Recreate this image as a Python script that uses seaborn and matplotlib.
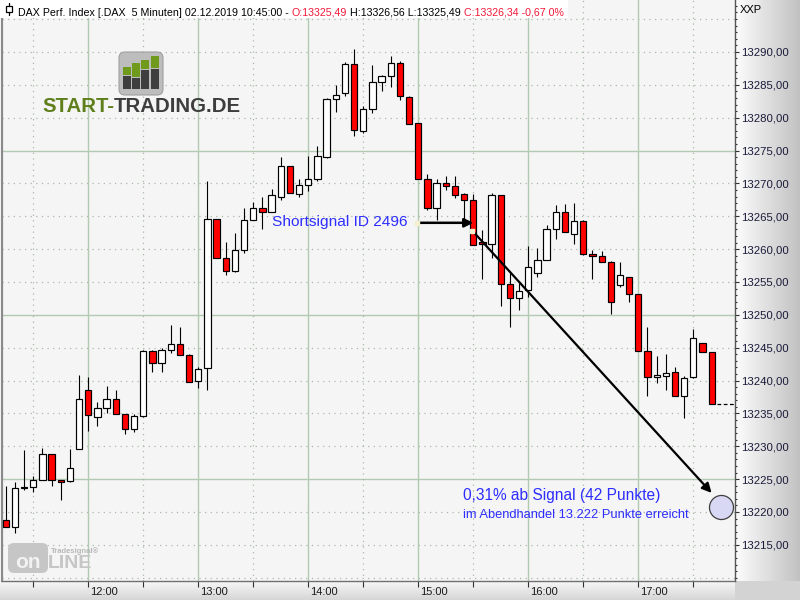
# Nachbau: DAX 5-Minuten-Chart mit Shortsignal (Kerzen mit seaborn-Balken)
import matplotlib.pyplot as plt
import numpy as np
import pandas as pd
import seaborn as sns
from matplotlib import font_manager
from matplotlib.patches import FancyBboxPatch, Rectangle
from matplotlib.text import Annotation
from matplotlib.ticker import FixedLocator, FuncFormatter, MultipleLocator
from matplotlib.transforms import ScaledTranslation

# --- Daten ---
start_time = "11:15"
bar_minutes = 5

open_ = [13218.8, 13217.7, 13223.6, 13223.8, 13224.9, 13228.8, 13224.8, 13224.7,
         13229.6, 13238.6, 13234.5, 13235.8, 13237.2, 13234.9, 13232.6, 13234.6,
         13244.5, 13242.7, 13244.7, 13245.5, 13243.9, 13239.9, 13241.9, 13264.6,
         13258.6, 13256.6, 13259.8, 13264.5, 13266.2, 13265.7, 13268.0, 13272.6,
         13268.4, 13269.7, 13270.7, 13274.0, 13282.9, 13283.7, 13288.2, 13277.9,
         13281.3, 13285.4, 13286.4, 13288.3, 13283.2, 13279.2, 13270.7, 13266.2,
         13270.1, 13269.6, 13268.4, 13267.4, 13261.1, 13260.7, 13268.2, 13254.7,
         13252.6, 13253.7, 13256.3, 13258.4, 13263.1, 13265.6, 13262.3, 13264.3,
         13259.3, 13258.9, 13258.1, 13254.6, 13255.8, 13253.1, 13244.5, 13240.5,
         13240.7, 13241.3, 13237.7, 13240.5, 13245.7, 13244.3]
high = [13224.0, 13224.5, 13229.4, 13225.5, 13229.7, 13228.8, 13224.8, 13229.6,
        13240.8, 13240.6, 13236.8, 13239.1, 13238.6, 13234.9, 13234.9, 13244.6,
        13244.6, 13245.0, 13248.4, 13248.1, 13244.0, 13242.0, 13270.3, 13264.6,
        13261.1, 13262.5, 13266.2, 13267.2, 13268.0, 13269.1, 13274.0, 13272.7,
        13270.7, 13274.1, 13275.7, 13283.0, 13285.0, 13288.4, 13290.4, 13281.8,
        13288.0, 13286.5, 13289.4, 13288.6, 13283.3, 13279.2, 13271.4, 13270.7,
        13271.1, 13271.1, 13268.6, 13268.4, 13262.9, 13268.5, 13268.3, 13256.3,
        13254.8, 13260.4, 13260.2, 13263.6, 13266.7, 13266.8, 13267.0, 13264.4,
        13259.8, 13259.7, 13258.2, 13258.1, 13255.8, 13253.2, 13248.2, 13243.8,
        13244.0, 13242.1, 13240.7, 13247.8, 13245.7, 13244.4]
low = [13217.7, 13216.8, 13223.4, 13223.1, 13224.9, 13223.9, 13221.8, 13224.5,
       13229.6, 13232.3, 13233.1, 13235.0, 13234.9, 13231.8, 13232.1, 13234.5,
       13241.3, 13241.3, 13244.2, 13243.9, 13239.8, 13238.9, 13238.6, 13258.6,
       13256.1, 13256.5, 13259.4, 13264.4, 13263.0, 13265.6, 13267.5, 13268.5,
       13267.9, 13268.9, 13270.4, 13273.8, 13280.9, 13283.3, 13277.2, 13277.7,
       13280.7, 13284.0, 13284.7, 13282.7, 13279.1, 13270.7, 13265.9, 13264.5,
       13269.0, 13267.8, 13264.4, 13260.6, 13255.5, 13258.7, 13251.3, 13248.2,
       13250.7, 13252.7, 13255.7, 13258.4, 13261.6, 13262.6, 13260.8, 13259.1,
       13255.5, 13258.1, 13250.2, 13254.2, 13251.9, 13244.5, 13237.6, 13239.7,
       13238.6, 13237.7, 13234.3, 13240.4, 13244.3, 13236.4]
close = [13217.7, 13223.6, 13223.8, 13224.9, 13228.8, 13224.9, 13224.6, 13226.7,
         13237.2, 13234.8, 13235.8, 13237.2, 13234.9, 13232.6, 13234.6, 13244.5,
         13242.7, 13244.7, 13245.5, 13243.9, 13239.8, 13241.7, 13264.6, 13258.6,
         13256.6, 13259.8, 13264.4, 13266.2, 13265.7, 13268.2, 13272.6, 13268.5,
         13269.7, 13270.7, 13274.1, 13282.9, 13283.4, 13288.2, 13278.1, 13281.3,
         13285.4, 13286.4, 13288.3, 13283.3, 13279.1, 13270.7, 13266.2, 13270.1,
         13269.6, 13268.3, 13267.4, 13260.6, 13260.7, 13268.2, 13254.7, 13252.6,
         13253.6, 13257.2, 13258.4, 13263.0, 13265.6, 13262.6, 13264.3, 13259.3,
         13258.9, 13258.1, 13252.0, 13256.0, 13253.1, 13244.5, 13240.5, 13240.9,
         13241.2, 13237.7, 13240.4, 13246.4, 13244.3, 13236.4]

hour_labels = ["12:00", "13:00", "14:00", "15:00", "16:00", "17:00"]
price_ticks = [13215, 13220, 13225, 13230, 13235, 13240, 13245, 13250,
               13255, 13260, 13265, 13270, 13275, 13280, 13285, 13290]

header_parts = [("DAX Perf. Index [.DAX  5 Minuten] 02.12.2019 10:45:00 - ", "black"),
                ("O:13325,49", "#f01838"),
                (" H:13326,56 L:13325,49 ", "black"),
                ("C:13326,34 -0,67 0%", "#f01838")]

signal_label = "Shortsignal ID 2496"
result_label = "0,31% ab Signal (42 Punkte)"
result_note = "im Abendhandel 13.222 Punkte erreicht"

# Positionen der Markierungen (Kerzenindex, Kurs)
signal_text_xy = (29.0, 13264.1)
signal_arrow = ((44.9, 13264.0), (51.0, 13264.0))
target_arrow = ((50.9, 13262.8), (77.0, 13222.9))
target_point = (78.0, 13220.7)
result_text_xy = (49.9, 13222.5)
note_text_xy = (49.9, 13219.5)

# --- Aufbereitung ---
df = pd.DataFrame({"pos": np.arange(len(open_)), "open": open_, "high": high,
                   "low": low, "close": close})
df["body_low"] = df[["open", "close"]].min(axis=1)
df["body"] = (df["close"] - df["open"]).abs().clip(lower=0.12)
df["steigend"] = df["close"] >= df["open"]

sh, sm = map(int, start_time.split(":"))
start_min = sh * 60 + sm
hour_pos = [(int(h[:2]) * 60 - start_min) / bar_minutes for h in hour_labels]
half_pos = [p - 6 for p in hour_pos] + [hour_pos[-1] + 6]

W, H = 800, 600
BLUE = "#2d2dff"


def fx(px):
    return px / W


def fy(py):
    return 1 - py / H


def pin(px, py):
    return px / 100, (H - py) / 100


def chain(prev, txt, **kw):
    # Text direkt rechts an den vorigen Text anhängen
    a = Annotation(txt, xy=(1, 0), xycoords=prev, va="bottom", ha="left",
                   annotation_clip=False, **kw)
    fig.add_artist(a)
    return a


sns.set_theme(style="white")
plt.rcParams["font.family"] = ["Liberation Sans", "DejaVu Sans"]
narrow, narrow_size = ["Liberation Sans"], 8.0
for cand, size in [("Liberation Sans Narrow", 8.6), ("DejaVu Sans Condensed", 7.6)]:
    try:
        font_manager.findfont(cand, fallback_to_default=False)
        narrow, narrow_size = [cand, "Liberation Sans"], size
        break
    except Exception:
        pass

fig = plt.figure(figsize=(8, 6), dpi=100)

# Hintergrund: Verlauf rechts und unten
bg = np.ones((H, W, 3))
ramp = np.linspace(0.99, 0.76, W - 735)
bg[:, 735:, :] = ramp[None, :, None]
vramp = np.linspace(0.97, 0.84, H - 581)
bg[581:, :735, :] = vramp[:, None, None]
bg[581:, 735:, :] = 0.83
fig.figimage(bg, xo=0, yo=0, zorder=-10)

ax = fig.add_axes([fx(2), fy(581), fx(735) - fx(2), fy(0) - fy(581)])
ax.set_facecolor("#f5f5f5")

# Gitter
for v in range(13210, 13300, 5):
    if v % 25 == 0:
        ax.axhline(v, color="#b2c9b2", lw=1.0, zorder=1)
    else:
        ax.axhline(v, color="#a9b9a9", lw=0.9, ls=(0, (1, 3.5)), zorder=1)
for p in hour_pos:
    ax.axvline(p, color="#b2c9b2", lw=1.0, zorder=1)
for p in half_pos:
    ax.axvline(p, color="#a9b9a9", lw=0.9, ls=(0, (1, 3.5)), zorder=1)

# Dochte
ax.vlines(df["pos"], df["low"], df["high"], color="black", lw=0.8, zorder=2)

# Kerzenkörper
for up, col in [(True, "white"), (False, "#ff0000")]:
    sub = df[df["steigend"] == up]
    sns.barplot(data=sub, x="pos", y="body", bottom=sub["body_low"].to_numpy(),
                native_scale=True, width=0.68, color=col, saturation=1,
                edgecolor="black", linewidth=0.85, errorbar=None, ax=ax, zorder=3)

# letzter Kurs
ax.hlines(close[-1], df["pos"].iloc[-1] + 0.6, 79.6, color="black", lw=0.9,
          ls=(0, (3, 2)), zorder=3)

# Signal und Ziel
ax.text(*signal_text_xy, signal_label, color=BLUE, fontsize=11.1, ha="left",
        va="center", zorder=5)
ax.annotate("", xy=signal_arrow[1], xytext=signal_arrow[0],
            arrowprops=dict(arrowstyle="-|>", color="black", lw=1.8,
                            mutation_scale=13, shrinkA=0, shrinkB=0), zorder=5)
ax.annotate("", xy=target_arrow[1], xytext=target_arrow[0],
            arrowprops=dict(arrowstyle="-|>", color="black", lw=1.6,
                            mutation_scale=14, shrinkA=0, shrinkB=0), zorder=5)
ax.plot([signal_arrow[0][0], target_arrow[0][0]],
        [signal_arrow[0][1], target_arrow[0][1]], ls="none", marker="s",
        ms=3, color="#f4f0d0", zorder=6)
sns.scatterplot(x=[target_point[0]], y=[target_point[1]], s=300,
                color="#d8d8f4", edgecolor="#404040", linewidth=0.9, ax=ax,
                zorder=6, legend=False)
ax.text(*result_text_xy, result_label, color=BLUE, fontsize=11.2, ha="left",
        va="center", zorder=5)
ax.text(*note_text_xy, result_note, color=BLUE, fontsize=9.3, ha="left",
        va="center", zorder=5)

# Achsen
ax.set_xlim(-0.41, 79.55)
ax.set_ylim(13209.5, 13297.9)
ax.set_xlabel("")
ax.set_ylabel("")
ax.yaxis.tick_right()
ax.yaxis.set_major_locator(FixedLocator(price_ticks))
ax.yaxis.set_minor_locator(MultipleLocator(1))
ax.yaxis.set_major_formatter(FuncFormatter(lambda v, _: f"{v:.2f}".replace(".", ",")))
ax.xaxis.set_major_locator(FixedLocator(hour_pos))
ax.xaxis.set_minor_locator(FixedLocator(half_pos))
ax.set_xticklabels(hour_labels)
ax.tick_params(axis="y", which="major", direction="out", length=3, width=0.8,
               color="#303030", pad=1.5, labelsize=8.2, labelcolor="#1a1a3a")
ax.tick_params(axis="y", which="minor", direction="out", length=1.6, width=0.8,
               color="#303030", right=True, left=False)
ax.tick_params(axis="x", which="both", direction="out", length=4, width=0.8,
               color="#303030", pad=0.5, bottom=True)
for lab in ax.get_xticklabels():
    lab.set_ha("left")
    lab.set_family(narrow)
    lab.set_fontsize(narrow_size)
    lab.set_color("#1a1a1a")
    lab.set_transform(lab.get_transform() + ScaledTranslation(0.02, 0, fig.dpi_scale_trans))
ax.spines["top"].set_visible(False)
ax.spines["left"].set_color("#8a8a8a")
ax.spines["left"].set_linewidth(1.6)
ax.spines["right"].set_color("#555555")
ax.spines["right"].set_linewidth(1.0)
ax.spines["bottom"].set_color("#707070")
ax.spines["bottom"].set_linewidth(1.0)

fig.text(fx(740), fy(10), "XXP", fontsize=8, color="black", va="center", ha="left")

# Kopfzeile
fig.patches.append(Rectangle(pin(0, 18), 568 / 100, 18 / 100, transform=fig.dpi_scale_trans,
                             facecolor="white", edgecolor="none", zorder=4))
fig.lines.append(plt.Line2D([9 / 100, 9 / 100], [(H - 3) / 100, (H - 15) / 100],
                            transform=fig.dpi_scale_trans, color="black", lw=0.9, zorder=5))
fig.patches.append(Rectangle(pin(6, 12), 6 / 100, 6 / 100, transform=fig.dpi_scale_trans,
                             facecolor="white", edgecolor="black", lw=0.9, zorder=6))
prev = fig.text(fx(18), fy(15.5), header_parts[0][0], color=header_parts[0][1],
                fontsize=7.7, va="baseline", ha="left", zorder=6)
for txt, col in header_parts[1:]:
    prev = chain(prev, txt, color=col, fontsize=7.7, zorder=6)

# Logo START-TRADING.DE
fig.patches.append(FancyBboxPatch(pin(119, 95), 0.44, 0.43, boxstyle="round,pad=0,rounding_size=0.06",
                                  transform=fig.dpi_scale_trans, facecolor="#bdbdbd",
                                  edgecolor="#a0a0a0", lw=0.8, zorder=4))
bars_x = [(122.7, 130.7), (131.7, 140.0), (141.3, 149.3), (150.7, 159.3)]
bars_top = [67, 63, 60, 56]
bars_mid = [75, 77, 69, 68]
for (x0, x1), t, m in zip(bars_x, bars_top, bars_mid):
    fig.patches.append(Rectangle(pin(x0, m), (x1 - x0) / 100, (m - t) / 100,
                                 transform=fig.dpi_scale_trans, facecolor="#6f9a1c",
                                 edgecolor="none", zorder=5))
    fig.patches.append(Rectangle(pin(x0, 89), (x1 - x0) / 100, (89 - m - 1) / 100,
                                 transform=fig.dpi_scale_trans, facecolor="#3f3f3f",
                                 edgecolor="none", zorder=5))
logo = fig.text(fx(42), fy(106), "START-", fontsize=14.7, fontweight="bold",
                color="#5f7f1c", va="center", ha="left", zorder=6)
chain(logo, "TRADING.DE", fontsize=14.7, fontweight="bold", color="#3d3d3d", zorder=6)

# Logo Tradesignal online
fig.patches.append(FancyBboxPatch(pin(8, 573), 0.40, 0.30, boxstyle="round,pad=0,rounding_size=0.06",
                                  transform=fig.dpi_scale_trans, facecolor="#c6c6c6",
                                  edgecolor="none", zorder=4))
fig.text(fx(28), fy(563), "on", fontsize=15, fontweight="bold", color="#f2f2f2",
         va="center", ha="center", zorder=5)
fig.text(fx(48), fy(563), "LINE", fontsize=14, fontweight="bold", color="#c6c6c6",
         va="center", ha="left", zorder=5)
fig.text(fx(51), fy(551), "Tradesignal®", fontsize=5.5, fontweight="bold", color="#b8b8b8",
         va="center", ha="left", zorder=5)

fig.savefig("out.png", dpi=100)
